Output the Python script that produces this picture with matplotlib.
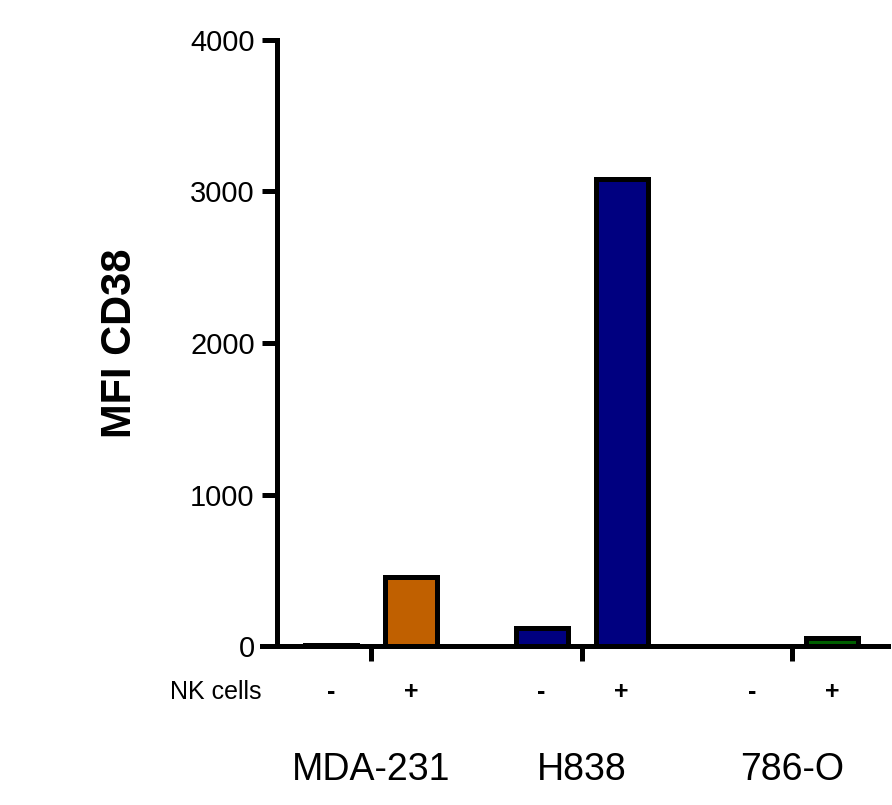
import matplotlib
matplotlib.use("Agg")
import matplotlib.pyplot as plt
import matplotlib.transforms as mtransforms

plt.rcParams['font.family'] = ['Liberation Sans', 'DejaVu Sans']

cell_lines = ["MDA-231", "H838", "786-O"]
nk_labels = ["-", "+"]
mfi_minus = [8, 120, 0]
mfi_plus = [455, 3080, 50]
colors = ["#C06000", "#000080", "#006000"]
y_ticks = [0, 1000, 2000, 3000, 4000]

fig = plt.figure(figsize=(8.92, 8.05), dpi=100)
ax = fig.add_axes([262 / 892, 1 - 646 / 805, (888 - 262) / 892, (646 - 40) / 805])

# two bars per cell line: without / with NK cells
offset = 0.19
width = 0.247
groups = list(range(len(cell_lines)))
for g, lo, hi, c in zip(groups, mfi_minus, mfi_plus, colors):
    ax.bar(g - offset, lo, width=width, color=c, edgecolor="black", linewidth=3.6, zorder=3)
    ax.bar(g + offset, hi, width=width, color=c, edgecolor="black", linewidth=3.6, zorder=3)

ax.set_xlim(-0.518, 2.456)
ax.set_ylim(0, 4000)
ax.spines["left"].set_position(("data", -0.447))
ax.spines["left"].set_linewidth(3.6)
ax.spines["bottom"].set_linewidth(3.6)
ax.spines["top"].set_visible(False)
ax.spines["right"].set_visible(False)

ax.set_yticks(y_ticks)
ax.set_yticklabels([str(v) for v in y_ticks], fontsize=21)
ax.tick_params(axis="y", length=11, width=3.6, pad=5)
ax.set_xticks(groups)
ax.set_xticklabels([])
ax.tick_params(axis="x", length=11, width=3.6, direction="out")

ax.set_ylabel("MFI CD38", fontsize=30, fontweight="bold", labelpad=36)

# NK cell +/- row and cell line names below the axis
trans = mtransforms.blended_transform_factory(ax.transData, fig.transFigure)
for g, name in zip(groups, cell_lines):
    ax.text(g - offset, 1 - 692 / 805, nk_labels[0], transform=trans, ha="center", va="center",
            fontsize=18, fontweight="bold")
    ax.text(g + offset, 1 - 692 / 805, nk_labels[1], transform=trans, ha="center", va="center",
            fontsize=18, fontweight="bold")
    ax.text(g, 1 - 770 / 805, name, transform=trans, ha="center", va="center", fontsize=27)

fig.text(262 / 892, 1 - 692 / 805, "NK cells", ha="right", va="center", fontsize=18)

fig.savefig("out.png", dpi=100)
